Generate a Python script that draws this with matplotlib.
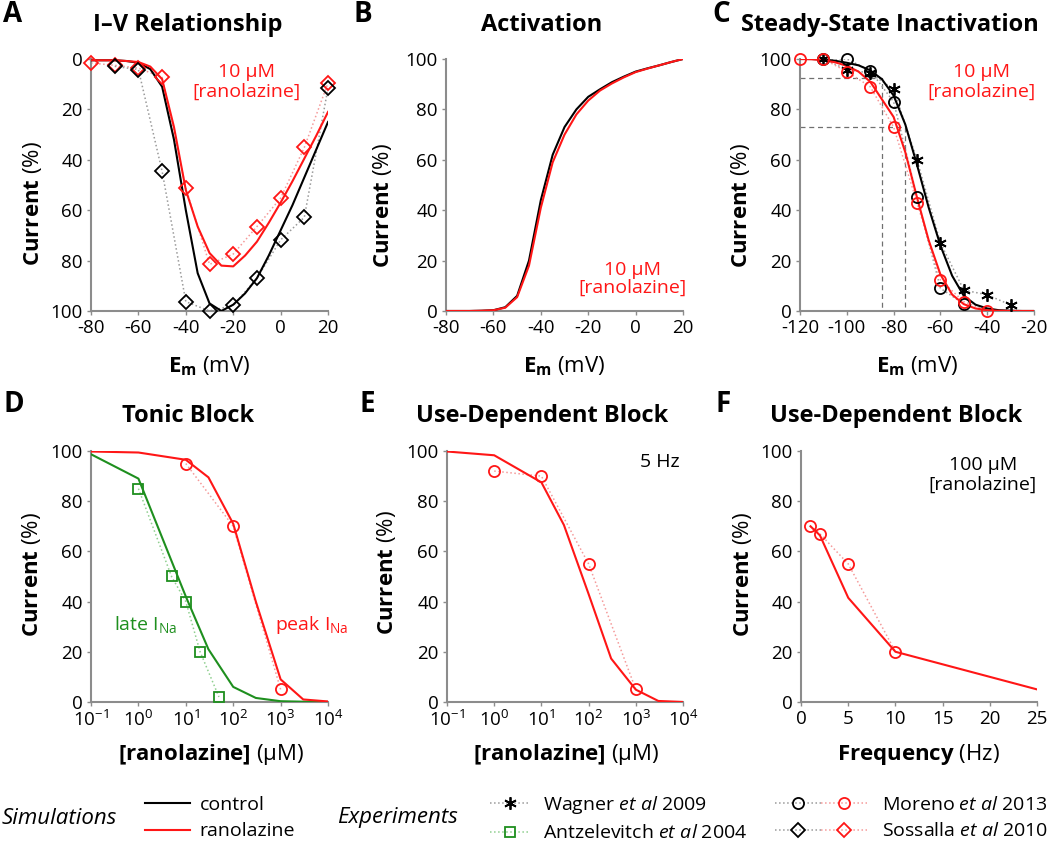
import numpy as np
import matplotlib
matplotlib.use("Agg")
import matplotlib.pyplot as plt
from matplotlib.lines import Line2D
from matplotlib.legend_handler import HandlerTuple

plt.rcParams['font.family'] = ['Open Sans', 'DejaVu Sans']
plt.rcParams['mathtext.fontset'] = 'custom'
plt.rcParams['mathtext.rm'] = 'Open Sans'
plt.rcParams['mathtext.bf'] = 'Open Sans:bold'
plt.rcParams['mathtext.it'] = 'Open Sans:italic'
plt.rcParams['axes.unicode_minus'] = False

ROJO = "#ff1616"
VERDE = "#1e8f1e"
GRIS_PUNTO = "#9a9a9a"
ROJO_PUNTO = "#f59a9a"
VERDE_PUNTO = "#8fcf8f"
EJE = "#8c8c8c"

# --- A: I-V ---
iv_v = [-80, -75, -70, -65, -60, -55, -50, -45, -40, -35, -30, -25, -20, -15, -10, -5, 0, 5, 10, 15, 20]
iv_control = [0.5, 0.5, 0.5, 0.8, 1.5, 4, 11, 32, 60, 85, 97, 100, 97.5, 93, 87, 78, 68, 58, 47, 36, 25]
iv_rano = [0.5, 0.5, 0.5, 0.8, 1.2, 3, 8, 27, 52, 66.5, 77, 82, 82.3, 78, 72.5, 65, 57, 48.5, 39.5, 30.5, 21]
sossalla_ctl_v = [-70, -60, -50, -40, -30, -20, -10, 0, 10, 20]
sossalla_ctl = [2.9, 4.2, 44.6, 96.3, 100, 97.8, 87, 71.8, 62.8, 11.5]
sossalla_rano_v = [-80, -70, -60, -50, -40, -30, -20, -10, 0, 10, 20]
sossalla_rano = [1.6, 2.5, 3.6, 7.3, 51.3, 81.5, 77.4, 66.5, 55.2, 35.1, 9.5]

# --- B: activacion ---
act_v = [-80, -75, -70, -65, -60, -55, -50, -45, -40, -35, -30, -25, -20, -15, -10, -5, 0, 5, 10, 15, 20]
act_control = [0, 0, 0, 0.1, 0.3, 1.5, 6, 20, 44, 62, 73, 80, 85, 88, 90.8, 93, 95, 96.3, 97.5, 98.8, 100]
act_rano = [0, 0, 0, 0.1, 0.3, 1.3, 5.5, 18, 41, 59, 70, 78, 83.5, 87.5, 90.3, 92.7, 94.8, 96.2, 97.5, 98.8, 100]

# --- C: inactivacion ---
ssi_v = [-120, -115, -110, -105, -100, -95, -90, -85, -80, -75, -70, -65, -60, -55, -50, -45, -40, -35, -30, -25, -20]
ssi_control = [100, 100, 99.8, 99.3, 98.5, 97.5, 95.5, 92, 85.5, 74, 58, 41, 26, 14, 6, 2.5, 1, 0.3, 0.1, 0, 0]
ssi_rano = [100, 99.9, 99.5, 98.7, 97.3, 95, 91, 84, 77, 63, 45, 28, 14.5, 6.5, 2.7, 1, 0.3, 0.1, 0, 0, 0]
wagner_v = [-110, -100, -90, -80, -70, -60, -50, -40, -30]
wagner = [100, 95.8, 94.4, 88, 60, 27, 8.3, 6.4, 2.4]
moreno_ctl_v = [-110, -100, -90, -80, -70, -60, -50]
moreno_ctl = [100, 100, 95.4, 83, 45.4, 9, 2.8]
moreno_rano_v = [-120, -110, -100, -90, -80, -70, -60, -50, -40]
moreno_rano = [100, 100, 95, 89, 73, 43, 12.3, 3.7, 0]

# --- D: bloqueo tonico ---
conc = [0.1, 1, 10, 30, 100, 300, 1000, 3000, 10000]
tonic_peak = [99.8, 99.4, 96.5, 89.5, 71, 40, 9, 1, 0.2]
tonic_late = [98.7, 89, 42, 21, 6, 1.6, 0.3, 0.1, 0]
antz_c = [1, 5, 10, 20, 50]
antz = [85, 50, 40, 20, 2]
moreno_tonic_c = [10, 100, 1000]
moreno_tonic = [95, 70, 5]

# --- E: bloqueo uso-dependiente (concentracion) ---
ud_conc = [0.1, 1, 10, 30, 100, 300, 1000, 3000, 10000]
ud_sim = [99.8, 98.3, 87.5, 70.5, 43, 17.3, 4.9, 0.4, 0]
moreno_ud_c = [1, 10, 100, 1000]
moreno_ud = [92, 90, 55, 5]

# --- F: bloqueo uso-dependiente (frecuencia) ---
freq = [1, 2, 5, 10, 25]
freq_sim = [70, 66.4, 41.5, 20, 5]
moreno_freq_f = [1, 2, 5, 10]
moreno_freq = [70, 67, 55, 20]

decadas = [0.1, 1, 10, 100, 1000, 10000]


def estilo(ax):
    for s in ['top', 'right']:
        ax.spines[s].set_visible(False)
    for s in ['left', 'bottom']:
        ax.spines[s].set_color(EJE)
        ax.spines[s].set_linewidth(1.5)
    ax.tick_params(which='major', length=3, width=1, color=EJE, labelsize=13.5, pad=3)
    ax.set_ylim(0, 100)
    ax.set_yticks([0, 20, 40, 60, 80, 100])


def experimento(ax, x, y, marker, mec, punto, ms=8):
    ax.plot(x, y, ls=':', color=punto, lw=1.1, zorder=2)
    ax.plot(x, y, ls='none', marker=marker, mfc='none', mec=mec, ms=ms, mew=1.3,
            clip_on=False, zorder=4)


def ylabel(ax, x, y):
    ax.text(x, y, r"$\mathbf{Current}$ (%)", rotation=90, ha='center', va='center',
            fontsize=16, transform=ax.transAxes)


fig = plt.figure(figsize=(10.5, 8.43), dpi=100)

axA = fig.add_axes([0.0867, 0.6311, 0.2257, 0.2989])
axB = fig.add_axes([0.4248, 0.6311, 0.2257, 0.2989])
axC = fig.add_axes([0.7619, 0.6311, 0.2229, 0.2989])
axD = fig.add_axes([0.0867, 0.1673, 0.2257, 0.2977])
axE = fig.add_axes([0.4257, 0.1673, 0.2248, 0.2977])
axF = fig.add_axes([0.7629, 0.1673, 0.2248, 0.2977])

for ax in [axA, axB, axC, axD, axE, axF]:
    estilo(ax)

# A
experimento(axA, sossalla_rano_v, sossalla_rano, 'D', ROJO, ROJO_PUNTO, 7)
experimento(axA, sossalla_ctl_v, sossalla_ctl, 'D', 'k', GRIS_PUNTO, 7)
axA.plot(iv_v, iv_control, color='k', lw=1.5, zorder=3)
axA.plot(iv_v, iv_rano, color=ROJO, lw=1.5, zorder=3)
axA.set_xlim(-80, 20)
axA.set_ylim(100, 0)
axA.set_xticks([-80, -60, -40, -20, 0, 20])
axA.text(0.658, 0.909, "10 µM\n[ranolazine]", color=ROJO, fontsize=14, ha='center',
         va='center', linespacing=1.15, transform=axA.transAxes)

# B
axB.plot(act_v, act_control, color='k', lw=1.5, zorder=3)
axB.plot(act_v, act_rano, color=ROJO, lw=1.5, zorder=3)
axB.set_xlim(-80, 20)
axB.set_xticks([-80, -60, -40, -20, 0, 20])
axB.text(0.785, 0.127, "10 µM\n[ranolazine]", color=ROJO, fontsize=14, ha='center',
         va='center', linespacing=0.95, transform=axB.transAxes)

# C
axC.plot([-120, -85, -85], [92.5, 92.5, 0], color='#707070', ls=(0, (4, 3)), lw=0.9, zorder=1)
axC.plot([-120, -75, -75], [73, 73, 0], color='#707070', ls=(0, (4, 3)), lw=0.9, zorder=1)
experimento(axC, wagner_v, wagner, (6, 2, 0), 'k', GRIS_PUNTO, 9)
experimento(axC, moreno_ctl_v, moreno_ctl, 'o', 'k', GRIS_PUNTO, 8)
experimento(axC, moreno_rano_v, moreno_rano, 'o', ROJO, ROJO_PUNTO, 8)
axC.plot(ssi_v, ssi_control, color='k', lw=1.5, zorder=3)
axC.plot(ssi_v, ssi_rano, color=ROJO, lw=1.5, zorder=3)
axC.set_xlim(-120, -20)
axC.set_xticks([-120, -100, -80, -60, -40, -20])
axC.text(0.777, 0.909, "10 µM\n[ranolazine]", color=ROJO, fontsize=14, ha='center',
         va='center', linespacing=1.15, transform=axC.transAxes)

for ax in [axA, axB, axC]:
    ax.text(0.5, -0.242, r"$\mathbf{E}_\mathbf{m}$ (mV)", fontsize=16, ha='center',
            va='baseline', transform=ax.transAxes)

# D
experimento(axD, antz_c, antz, 's', VERDE, VERDE_PUNTO, 7)
experimento(axD, moreno_tonic_c, moreno_tonic, 'o', ROJO, ROJO_PUNTO, 8)
axD.plot(conc, tonic_late, color=VERDE, lw=1.5, zorder=3)
axD.plot(conc, tonic_peak, color=ROJO, lw=1.5, zorder=3)
axD.text(0.232, 0.307, r"late I$_{\mathrm{Na}}$", color=VERDE, fontsize=14, ha='center',
         va='center', transform=axD.transAxes)
axD.text(0.93, 0.307, r"peak I$_{\mathrm{Na}}$", color=ROJO, fontsize=14, ha='center',
         va='center', transform=axD.transAxes)

# E
experimento(axE, moreno_ud_c, moreno_ud, 'o', ROJO, ROJO_PUNTO, 8)
axE.plot(ud_conc, ud_sim, color=ROJO, lw=1.5, zorder=3)
axE.text(0.90, 0.956, "5 Hz", fontsize=14, ha='center', va='center', transform=axE.transAxes)

for ax in [axD, axE]:
    ax.set_xscale('log')
    ax.set_xlim(0.1, 10000)
    ax.set_xticks(decadas)
    ax.tick_params(which='minor', length=2, width=0.8, color=EJE)
    ax.text(0.506, -0.231, r"$\mathbf{[ranolazine]}$ (µM)", fontsize=16, ha='center',
            va='baseline', transform=ax.transAxes)

# F
experimento(axF, moreno_freq_f, moreno_freq, 'o', ROJO, ROJO_PUNTO, 8)
axF.plot(freq, freq_sim, color=ROJO, lw=1.5, zorder=3)
axF.set_xlim(0, 25)
axF.set_xticks([0, 5, 10, 15, 20, 25])
axF.text(0.77, 0.904, "100 µM\n[ranolazine]", fontsize=14, ha='center', va='center',
         linespacing=1.15, transform=axF.transAxes)
axF.text(0.497, -0.231, r"$\mathbf{Frequency}$ (Hz)", fontsize=16, ha='center',
         va='baseline', transform=axF.transAxes)

ylabel(axA, -0.249, 0.425)
ylabel(axB, -0.27, 0.42)
ylabel(axC, -0.253, 0.42)
ylabel(axD, -0.253, 0.506)
ylabel(axE, -0.258, 0.514)
ylabel(axF, -0.25, 0.506)

# titulos y letras
titulos = [("I–V Relationship", 188, 25), ("Activation", 542, 25), ("Steady-State Inactivation", 890, 25),
           ("Tonic Block", 188, 416), ("Use-Dependent Block", 542, 416), ("Use-Dependent Block", 896, 416)]
for t, x, y in titulos:
    fig.text(x / 1050, 1 - y / 843, t, ha='center', va='center', fontsize=17, fontweight='bold')

letras = [("A", 3, 15), ("B", 353, 15), ("C", 712, 15), ("D", 3, 405), ("E", 360, 405), ("F", 715, 405)]
for l, x, y in letras:
    fig.text(x / 1050, 1 - y / 843, l, ha='left', va='center', fontsize=20, fontweight='bold')

# leyenda
fila = 1 - 818 / 843
fig.text(2 / 1050, fila, "Simulations", style='italic', fontsize=16, va='center')
fig.text(337 / 1050, fila, "Experiments", style='italic', fontsize=16, va='center')

h_sim = [Line2D([], [], color='k', lw=1.5), Line2D([], [], color=ROJO, lw=1.5)]
fig.legend(h_sim, ["control", "ranolazine"], loc='center left', bbox_to_anchor=(145 / 1050, fila),
           frameon=False, fontsize=14, handlelength=2.3, handletextpad=0.5, labelspacing=0.45,
           borderpad=0, borderaxespad=0)


def clave(marker, mec, punto, ms):
    return Line2D([], [], color=punto, ls=':', lw=1.1, marker=marker, mec=mec, mfc='none',
                  ms=ms, mew=1.3)


h_exp1 = [clave((6, 2, 0), 'k', GRIS_PUNTO, 9), clave('s', VERDE, VERDE_PUNTO, 7)]
fig.legend(h_exp1, [r"Wagner $\mathit{et\ al}$ 2009", r"Antzelevitch $\mathit{et\ al}$ 2004"],
           loc='center left', bbox_to_anchor=(490 / 1050, fila), frameon=False, fontsize=14,
           handlelength=2.06, handletextpad=0.67, labelspacing=0.45, borderpad=0, borderaxespad=0)

h_exp2 = [(clave('o', 'k', GRIS_PUNTO, 8), clave('o', ROJO, ROJO_PUNTO, 8)),
          (clave('D', 'k', GRIS_PUNTO, 7), clave('D', ROJO, ROJO_PUNTO, 7))]
fig.legend(h_exp2, [r"Moreno $\mathit{et\ al}$ 2013", r"Sossalla $\mathit{et\ al}$ 2010"],
           loc='center left', bbox_to_anchor=(775 / 1050, fila), frameon=False, fontsize=14,
           handlelength=4.74, handletextpad=0.77, labelspacing=0.45, borderpad=0, borderaxespad=0,
           handler_map={tuple: HandlerTuple(ndivide=None, pad=0)})

plt.savefig("out.png", dpi=100)
